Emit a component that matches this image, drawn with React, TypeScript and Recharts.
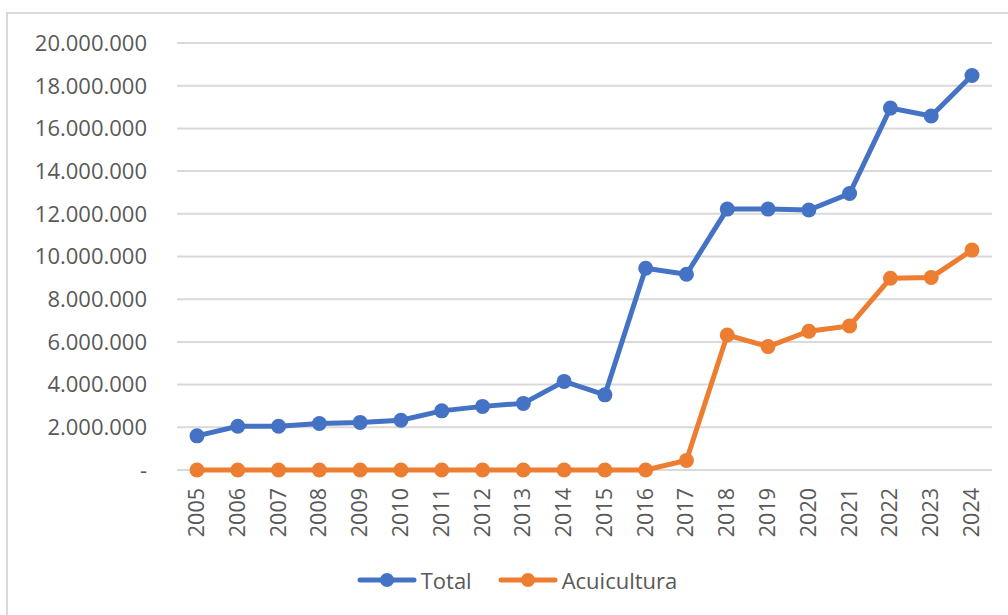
import { CartesianGrid, Legend, Line, LineChart, XAxis, YAxis } from "recharts";

const years = [
  "2005", "2006", "2007", "2008", "2009", "2010", "2011", "2012", "2013", "2014",
  "2015", "2016", "2017", "2018", "2019", "2020", "2021", "2022", "2023", "2024"
];
const total = [
  1600000, 2050000, 2050000, 2180000, 2230000, 2330000, 2770000, 2980000, 3120000, 4150000,
  3520000, 9450000, 9170000, 12220000, 12220000, 12180000, 12950000, 16950000, 16580000, 18480000
];
const acuicultura = [
  0, 0, 0, 0, 0, 0, 0, 0, 0, 0,
  0, 0, 450000, 6320000, 5780000, 6500000, 6750000, 8980000, 9020000, 10300000
];
const yTicks = [0, 2000000, 4000000, 6000000, 8000000, 10000000, 12000000, 14000000, 16000000, 18000000, 20000000];

const series = [
  { key: "total", name: "Total", color: "#4472c4" },
  { key: "acuicultura", name: "Acuicultura", color: "#ed7d31" }
];

const data = years.map((y, i) => ({ year: y, total: total[i], acuicultura: acuicultura[i] }));

const FONT = "'Open Sans', 'Noto Sans', sans-serif";
const TEXT = "#595959";

function fmt(v: number) {
  if (v === 0) return "-";
  return v.toString().replace(/\B(?=(\d{3})+(?!\d))/g, ".");
}

function YearTick({ x, y, payload }: any) {
  return (
    <text
      x={x}
      y={y}
      transform={`rotate(-90, ${x}, ${y})`}
      dx={-10}
      dy={7}
      textAnchor="end"
      fill={TEXT}
      fontSize={21.5}
      fontFamily={FONT}
    >
      {payload.value}
    </text>
  );
}

function LegendContent() {
  return (
    <div
      style={{
        height: 30,
        paddingLeft: 22,
        display: "flex",
        justifyContent: "center",
        alignItems: "center",
        gap: 26,
        fontFamily: FONT,
        fontSize: 22,
        color: TEXT
      }}
    >
      {series.map((s) => (
        <div key={s.key} style={{ display: "flex", alignItems: "center" }}>
          <svg width={60} height={16} style={{ marginRight: 4 }}>
            <line x1={3} y1={8} x2={57} y2={8} stroke={s.color} strokeWidth={5} strokeLinecap="round" />
            <circle cx={30} cy={8} r={7} fill={s.color} />
          </svg>
          <span>{s.name}</span>
        </div>
      ))}
    </div>
  );
}

export default function App() {
  return (
    <div style={{ position: "fixed", left: 0, top: 0, width: 1008, height: 615, overflow: "hidden", background: "#fff" }}>
      <div
        style={{
          position: "absolute",
          left: 6,
          top: 12,
          width: 1030,
          height: 640,
          border: "2px solid #d9d9d9",
          boxSizing: "border-box"
        }}
      />
      <div style={{ position: "absolute", left: 0, top: 0 }}>
        <LineChart width={1008} height={615} data={data} margin={{ top: 43, right: 16, left: 20, bottom: 40 }}>
          <CartesianGrid vertical={false} stroke="#d9d9d9" strokeWidth={2} />
          <XAxis
            dataKey="year"
            interval={0}
            axisLine={false}
            tickLine={false}
            tick={<YearTick />}
            height={75}
            padding={{ left: 20, right: 20 }}
          />
          <YAxis
            domain={[0, 20000000]}
            ticks={yTicks}
            tickFormatter={fmt}
            axisLine={false}
            tickLine={false}
            width={157}
            tickMargin={24}
            tick={{ fill: TEXT, fontSize: 22, fontFamily: FONT }}
          />
          <Legend verticalAlign="bottom" content={<LegendContent />} wrapperStyle={{ bottom: 20 }} />
          {series.map((s) => (
            <Line
              key={s.key}
              type="linear"
              dataKey={s.key}
              name={s.name}
              stroke={s.color}
              strokeWidth={5}
              dot={{ r: 7.5, fill: s.color, stroke: s.color, strokeWidth: 0 }}
              activeDot={false}
              isAnimationActive={false}
            />
          ))}
        </LineChart>
      </div>
    </div>
  );
}
